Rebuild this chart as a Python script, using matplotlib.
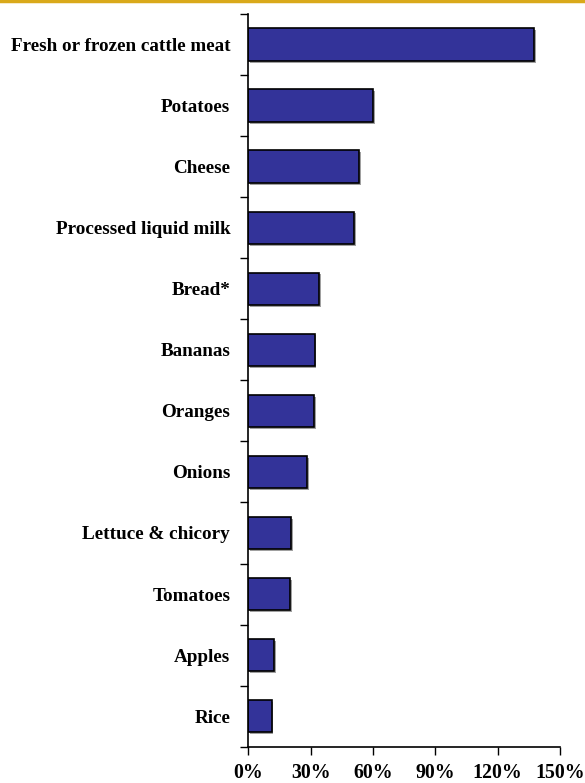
import matplotlib
matplotlib.use("Agg")
import matplotlib.pyplot as plt
import numpy as np

categories = ["Fresh or frozen cattle meat", "Potatoes", "Cheese", "Processed liquid milk",
              "Bread*", "Bananas", "Oranges", "Onions", "Lettuce & chicory", "Tomatoes",
              "Apples", "Rice"]
values = [137.5, 60.1, 53.2, 50.8, 34.0, 32.0, 31.6, 28.2, 20.5, 20.0, 12.5, 11.2]
xticks = [0, 30, 60, 90, 120, 150]
xticklabels = ["0%", "30%", "60%", "90%", "120%", "150%"]

plt.rcParams['font.family'] = ['Liberation Serif', 'DejaVu Serif']
fig = plt.figure(figsize=(5.85, 7.83), dpi=100)
fig.add_artist(plt.Line2D([0, 1], [0.9985, 0.9985], color="#D9A91A", lw=2.5, transform=fig.transFigure))
ax = fig.add_axes([0.4244, 0.0464, 0.9573 - 0.4244, 0.9821 - 0.0464])

y = np.arange(len(categories))
# shadow
ax.barh(y + 0.03, values, height=0.53, left=0.8, color="#a0a0a0", zorder=1)
ax.barh(y, values, height=0.53, color="#333399", edgecolor="black", linewidth=1.2, zorder=2)
ax.set_ylim(len(categories) - 0.5, -0.5)
ax.set_xlim(0, 150)

ax.set_yticks(y)
ax.set_yticklabels(categories, fontsize=13.8, fontweight="bold")
ax.tick_params(axis="y", which="major", length=0, pad=13)
ax.set_yticks(np.arange(-0.5, len(categories), 1), minor=True)
ax.tick_params(axis="y", which="minor", length=6, width=1, direction="out")

ax.set_xticks(xticks)
ax.set_xticklabels(xticklabels, fontsize=14.3, fontweight="bold")
ax.tick_params(axis="x", length=6, width=1, direction="out", pad=6)

for s in ["top", "right"]:
    ax.spines[s].set_visible(False)
for s in ["left", "bottom"]:
    ax.spines[s].set_linewidth(1.2)

fig.savefig("out.png", dpi=100)
